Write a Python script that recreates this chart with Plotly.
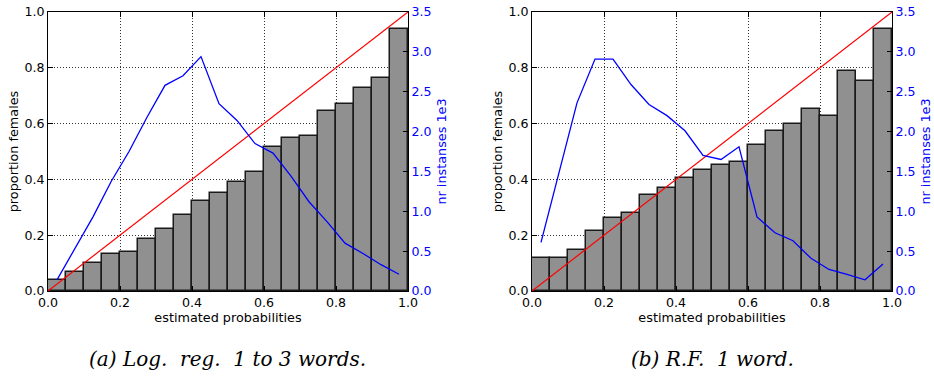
import plotly.graph_objects as go

bin_centers = [0.025, 0.075, 0.125, 0.175, 0.225, 0.275, 0.325, 0.375, 0.425, 0.475,
               0.525, 0.575, 0.625, 0.675, 0.725, 0.775, 0.825, 0.875, 0.925, 0.975]

prop_a = [0.039, 0.069, 0.100, 0.132, 0.141, 0.185, 0.224, 0.272, 0.323, 0.350,
          0.392, 0.427, 0.516, 0.550, 0.556, 0.646, 0.669, 0.728, 0.762, 0.940]
count_a = [0.14, 0.54, 0.93, 1.37, 1.75, 2.18, 2.58, 2.70, 2.94, 2.35,
           2.14, 1.85, 1.73, 1.44, 1.12, 0.87, 0.60, 0.47, 0.33, 0.21]

prop_b = [0.120, 0.117, 0.146, 0.214, 0.261, 0.279, 0.344, 0.368, 0.404, 0.434,
          0.452, 0.461, 0.523, 0.575, 0.600, 0.654, 0.626, 0.789, 0.752, 0.940]
count_b = [0.61, 1.49, 2.36, 2.91, 2.91, 2.59, 2.34, 2.20, 2.01, 1.70,
           1.65, 1.81, 0.93, 0.73, 0.63, 0.41, 0.27, 0.21, 0.14, 0.34]

diag = [0.0, 1.0]
captions = ["(a) Log.&nbsp; reg.&nbsp; 1 to 3 words.", "(b) R.F.&nbsp; 1 word."]

FONT = "DejaVu Sans"
W, H = 934, 377
TICK_SIZE = 12.6
TITLE_SIZE = 12.8

fig = go.Figure()

panels = [
    (prop_a, count_a, ("x", "y", "y2")),
    (prop_b, count_b, ("x2", "y3", "y4")),
]

for prop, cnt, (xa, ya, yb) in panels:
    fig.add_trace(go.Bar(x=bin_centers, y=prop, width=0.05, xaxis=xa, yaxis=ya,
                         marker=dict(color="#909090", line=dict(color="#1a1a1a", width=1.5)),
                         showlegend=False))
    fig.add_trace(go.Scatter(x=diag, y=diag, mode="lines", xaxis=xa, yaxis=ya,
                             line=dict(color="#ff0000", width=1.2), showlegend=False))
    fig.add_trace(go.Scatter(x=bin_centers, y=cnt, mode="lines", xaxis=xa, yaxis=yb,
                             line=dict(color="#0000ff", width=1.3), showlegend=False))

y_dom = [1 - 291 / H, 1 - 12 / H]
GRID = dict(showgrid=True, gridcolor="#333333", griddash="1px,2px", gridwidth=1)

def xax(domain, anchor):
    return dict(domain=domain, anchor=anchor, range=[0, 1], tickvals=[0, 0.2, 0.4, 0.6, 0.8, 1.0],
                ticktext=["0.0", "0.2", "0.4", "0.6", "0.8", "1.0"],
                ticks="inside", ticklen=5, tickcolor="black", mirror="ticks",
                showline=True, linecolor="black", linewidth=1, automargin=False,
                zeroline=False, tickfont=dict(family=FONT, size=TICK_SIZE, color="black"),
                title=dict(text="estimated probabilities", font=dict(family=FONT, size=TITLE_SIZE, color="black"),
                           standoff=3), **GRID)

def yleft(anchor):
    return dict(domain=y_dom, anchor=anchor, range=[0, 1], tickvals=[0, 0.2, 0.4, 0.6, 0.8, 1.0],
                ticktext=["0.0", "0.2", "0.4", "0.6", "0.8", "1.0"],
                ticks="inside", ticklen=5, tickcolor="black",
                showline=True, linecolor="black", linewidth=1, automargin=False,
                zeroline=False, tickfont=dict(family=FONT, size=TICK_SIZE, color="black"),
                title=dict(text="proportion females", font=dict(family=FONT, size=TITLE_SIZE, color="black"),
                           standoff=2), **GRID)

def yright(anchor, overlay):
    return dict(anchor=anchor, overlaying=overlay, side="right", range=[0, 3.5],
                tickvals=[0, 0.5, 1.0, 1.5, 2.0, 2.5, 3.0, 3.5],
                ticktext=["0.0", "0.5", "1.0", "1.5", "2.0", "2.5", "3.0", "3.5"],
                ticks="inside", ticklen=5, tickcolor="black",
                showline=True, linecolor="black", linewidth=1, automargin=False,
                showgrid=False, zeroline=False,
                tickfont=dict(family=FONT, size=TICK_SIZE, color="#0000ff"),
                title=dict(text="nr instanses 1e3", font=dict(family=FONT, size=TITLE_SIZE, color="#0000ff"),
                           standoff=6))

fig.update_layout(
    width=W, height=H,
    margin=dict(l=0, r=0, t=0, b=0, autoexpand=False),
    paper_bgcolor="white", plot_bgcolor="white",
    bargap=0,
    xaxis=xax([48 / W, 408 / W], "y"),
    yaxis=yleft("x"),
    yaxis2=yright("x", "y"),
    xaxis2=xax([532 / W, 892 / W], "y3"),
    yaxis3=yleft("x2"),
    yaxis4=yright("x2", "y3"),
)

for cx, txt in zip([227 / W, 712 / W], captions):
    fig.add_annotation(x=cx, y=1 - 359 / H, xref="paper", yref="paper", xanchor="center", yanchor="middle",
                       text="<i>" + txt + "</i>",
                       showarrow=False, font=dict(family="DejaVu Serif", size=20, color="black"))

fig.write_html("out.html")
